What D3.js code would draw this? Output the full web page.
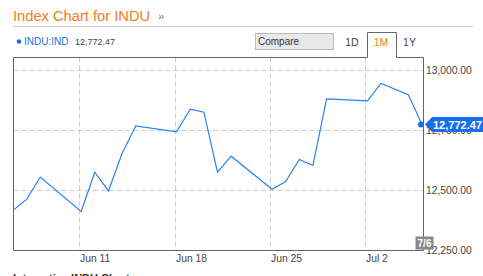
<!DOCTYPE html>
<html>
<head>
<meta charset="utf-8">
<script src="https://cdn.jsdelivr.net/npm/d3@7"></script>
<style>
  body { margin: 0; background: #fff; }
  svg { display: block; font-family: "Liberation Sans", Arial, sans-serif; }
</style>
</head>
<body>
<div id="chart"></div>
<script>
// closing values, INDU, 1M view
const dates = ["2012-06-06","2012-06-07","2012-06-08","2012-06-11","2012-06-12","2012-06-13","2012-06-14","2012-06-15",
  "2012-06-18","2012-06-19","2012-06-20","2012-06-21","2012-06-22","2012-06-25","2012-06-26","2012-06-27","2012-06-28",
  "2012-06-29","2012-07-02","2012-07-03","2012-07-05","2012-07-06"];
const closes = [12415, 12461, 12554, 12411, 12574, 12496, 12652, 12767,
  12742, 12837, 12824, 12574, 12641, 12503, 12535, 12627, 12602,
  12880, 12871, 12944, 12897, 12772.47];
const yTicks = [12250, 12500, 12750, 13000];
const xTicks = ["2012-06-11", "2012-06-18", "2012-06-25", "2012-07-02"];
const ranges = ["1D", "1M", "1Y"];
const activeRange = "1M";
const lastLabel = "7/6";

const W = 483, H = 276;
const parse = d3.timeParse("%Y-%m-%d");
const data = dates.map((d, i) => ({ date: parse(d), value: closes[i] }));

const svg = d3.select("#chart").append("svg").attr("width", W).attr("height", H);

// header
svg.append("text").attr("x", 13).attr("y", 21)
    .attr("fill", "#f47b20").attr("font-size", 14.7)
    .text("Index Chart for INDU");
svg.append("text").attr("x", 158).attr("y", 20)
    .attr("fill", "#777").attr("font-size", 11).text("»");
svg.append("line").attr("x1", 13).attr("x2", 473).attr("y1", 26.5).attr("y2", 26.5)
    .attr("stroke", "#ccc");

// ticker row
svg.append("circle").attr("cx", 19).attr("cy", 41.5).attr("r", 2.3).attr("fill", "#1a6fe8");
svg.append("text").attr("x", 24).attr("y", 45).attr("fill", "#1a6fe8").attr("font-size", 10).text("INDU:IND");
svg.append("text").attr("x", 75).attr("y", 45).attr("fill", "#444").attr("font-size", 9).text("12,772.47");

svg.append("rect").attr("x", 255.5).attr("y", 33.5).attr("width", 78).attr("height", 16)
    .attr("fill", "#e8e8e8").attr("stroke", "#bbb");
svg.append("text").attr("x", 258).attr("y", 45).attr("fill", "#333").attr("font-size", 10).text("Compare");

// plot frame
const pLeft = 13, pRight = 423, pTop = 57.5, pBottom = 250;
const x = d3.scaleTime().domain([parse("2012-06-06"), parse("2012-07-06")]).range([pLeft, pRight - 1]);
const y = d3.scaleLinear().domain([12250, 13000]).range([pBottom, 70]);

// range tabs
const tabX = { "1D": 352, "1M": 381, "1Y": 409.5 };
svg.append("path")
    .attr("d", `M367.5,${pTop}V32.5H396.5V${pTop}`)
    .attr("fill", "#fff").attr("stroke", "#666");
ranges.forEach(r => {
  svg.append("text").attr("x", tabX[r]).attr("y", 45.5).attr("text-anchor", "middle")
      .attr("font-size", 10.5).attr("fill", r === activeRange ? "#f47b20" : "#444").text(r);
});

// grid
const grid = svg.append("g").attr("stroke", "#ccc").attr("stroke-dasharray", "5,3");
yTicks.slice(1).forEach(t => {
  grid.append("line").attr("x1", pLeft).attr("x2", pRight).attr("y1", Math.round(y(t)) + 0.5).attr("y2", Math.round(y(t)) + 0.5);
});
xTicks.forEach(t => {
  const xx = Math.round(x(parse(t))) - 1.5;
  grid.append("line").attr("x1", xx).attr("x2", xx).attr("y1", pTop).attr("y2", pBottom);
});

// border (gap under tab)
svg.append("path")
    .attr("d", `M367.5,${pTop}H${pLeft + 0.5}V${pBottom + 0.5}H${pRight + 0.5}V${pTop}H396.5`)
    .attr("fill", "none").attr("stroke", "#666");

// x labels
const fmt = d3.timeFormat("%b %-d");
xTicks.forEach(t => {
  svg.append("text").attr("x", Math.round(x(parse(t))) - 1).attr("y", 262)
      .attr("font-size", 10.3).attr("fill", "#444").text(fmt(parse(t)));
});

// y labels
yTicks.forEach(t => {
  svg.append("text").attr("x", 426).attr("y", y(t) + 4)
      .attr("font-size", 10.3).attr("fill", "#444").text(d3.format(",.2f")(t));
});

// line
const line = d3.line().x(d => x(d.date)).y(d => y(d.value));
svg.append("path").datum(data).attr("d", line)
    .attr("fill", "none").attr("stroke", "#2a80f5").attr("stroke-width", 1.2);

// last point + tag
const last = data[data.length - 1];
const lx = x(last.date), ly = y(last.value);
svg.append("circle").attr("cx", lx - 1).attr("cy", ly).attr("r", 3).attr("fill", "#1a6fe8");
svg.append("path")
    .attr("d", `M${lx + 3},${ly} L${lx + 10},${ly - 7.5} H${W} V${ly + 7.5} H${lx + 10} Z`)
    .attr("fill", "#1a6fe8");
svg.append("text").attr("x", 433).attr("y", ly + 4).attr("fill", "#fff")
    .attr("font-size", 11).attr("font-weight", "bold").text(d3.format(",.2f")(last.value));

// last date box
svg.append("rect").attr("x", 415.5).attr("y", 236.5).attr("width", 18).attr("height", 13).attr("fill", "#888");
svg.append("text").attr("x", 424.5).attr("y", 247).attr("text-anchor", "middle")
    .attr("font-size", 10).attr("font-weight", "bold").attr("fill", "#fff").text(lastLabel);

// footer heading (cut off)
svg.append("text").attr("x", 13).attr("y", 282).attr("font-size", 11).attr("font-weight", "bold")
    .attr("fill", "#333").text("Interactive INDU Chart");
</script>
</body>
</html>
